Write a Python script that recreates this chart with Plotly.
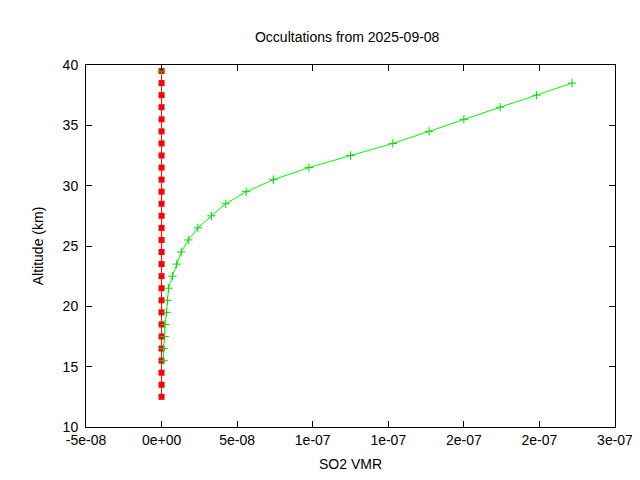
import plotly.graph_objects as go

red_alt = [12.5 + i for i in range(28)]
red_vmr = [0.0] * 28

green_alt = [15.5, 16.5, 17.5, 18.5, 19.5, 20.5, 21.5, 22.5, 23.5, 24.5, 25.5, 26.5, 27.5,
             28.5, 29.5, 30.5, 31.5, 32.5, 33.5, 34.5, 35.5, 36.5, 37.5, 38.5]
green_vmr = [1.2e-9, 1.3e-9, 2.0e-9, 2.2e-9, 3.3e-9, 3.9e-9, 4.6e-9, 7.2e-9, 1.0e-8, 1.3e-8,
             1.77e-8, 2.4e-8, 3.3e-8, 4.25e-8, 5.6e-8, 7.4e-8, 9.75e-8, 1.25e-7, 1.53e-7,
             1.77e-7, 2.0e-7, 2.24e-7, 2.48e-7, 2.716e-7]
top_alt = [39.5]
top_vmr = [0.0]

xticks = [-5e-8, 0, 5e-8, 1e-7, 1.5e-7, 2e-7, 2.5e-7, 3e-7]
xlabels = ["-5e-08", "0e+00", "5e-08", "1e-07", "1e-07", "2e-07", "2e-07", "3e-07"]
yticks = [10, 15, 20, 25, 30, 35, 40]

fig = go.Figure()
fig.add_trace(go.Scatter(x=red_vmr, y=red_alt, mode="lines+markers",
                         line=dict(color="#ff0000", width=1),
                         marker=dict(symbol="square", size=6, color="#ff0000")))
fig.add_trace(go.Scatter(x=green_vmr, y=green_alt, mode="lines+markers",
                         line=dict(color="#00ff00", width=1),
                         marker=dict(symbol="cross-thin", size=6,
                                     line=dict(color="#00dd00", width=1))))
fig.add_trace(go.Scatter(x=top_vmr, y=top_alt, mode="markers",
                         marker=dict(symbol="cross-thin", size=6,
                                     line=dict(color="#00dd00", width=1))))

axis = dict(showline=True, mirror="allticks", linecolor="black", linewidth=1,
            ticks="inside", ticklen=6, tickcolor="black", showgrid=False,
            zeroline=False, automargin=False,
            tickfont=dict(family="Liberation Sans", size=14, color="black"))
fig.update_xaxes(range=[-5e-8, 3e-7], tickvals=xticks, ticktext=xlabels,
                 title=dict(text="SO2 VMR", standoff=12,
                            font=dict(family="Liberation Sans", size=14, color="black")), **axis)
fig.update_yaxes(range=[10, 40], tickvals=yticks, ticklabelstandoff=4,
                 title=dict(text="Altitude (km)",
                            font=dict(family="Liberation Sans", size=14, color="black")), **axis)
fig.update_layout(
    width=640, height=480, showlegend=False,
    plot_bgcolor="white", paper_bgcolor="white",
    margin=dict(l=78, r=33, t=57, b=61, autoexpand=False),
    title=dict(text="Occultations from 2025-09-08", x=0.53, y=0.95,
               font=dict(family="Liberation Sans", size=14, color="black")),
)
fig.write_html("out.html")
